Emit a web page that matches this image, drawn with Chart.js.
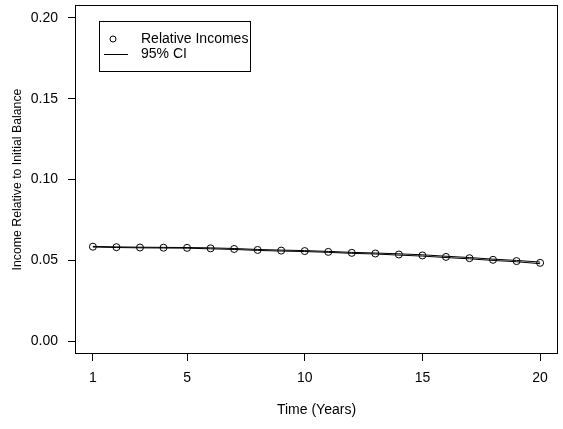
<!DOCTYPE html>
<html>
<head>
<meta charset="utf-8">
<script src="https://cdn.jsdelivr.net/npm/chart.js@4/dist/chart.umd.min.js"></script>
<style>
html,body{margin:0;padding:0;background:#fff;}
#wrap{width:563px;height:429px;}
</style>
</head>
<body>
<div id="wrap"><canvas id="c" width="563" height="429"></canvas></div>
<script>
const years = [1,2,3,4,5,6,7,8,9,10,11,12,13,14,15,16,17,18,19,20];
const relativeIncomes = [0.0584,0.0581,0.0579,0.0578,0.0577,0.0574,0.0570,0.0564,0.0560,0.0557,0.0552,0.0546,0.0542,0.0536,0.0530,0.0521,0.0513,0.0503,0.0495,0.0484];
const ciUpper = [0.0586,0.0583,0.0581,0.0580,0.0579,0.0577,0.0573,0.0567,0.0563,0.0560,0.0555,0.0549,0.0545,0.0540,0.0534,0.0525,0.0517,0.0507,0.0499,0.0489];
const ciLower = [0.0582,0.0579,0.0577,0.0576,0.0575,0.0571,0.0567,0.0561,0.0557,0.0554,0.0549,0.0543,0.0539,0.0532,0.0526,0.0517,0.0509,0.0499,0.0491,0.0479];
const xTicks = [1,5,10,15,20];
const yTicks = [0.00,0.05,0.10,0.15,0.20];
const xLabel = "Time (Years)";
const yLabel = "Income Relative to Initial Balance";
const legendLabels = ["Relative Incomes","95% CI"];

const FONT = "'Liberation Sans', Arial, Helvetica, sans-serif";

const toXY = arr => arr.map((v,i)=>({x:years[i], y:v}));

const boxPlugin = {
  id:'box',
  afterDraw(chart){
    const {ctx, chartArea:a} = chart;
    ctx.save();
    ctx.strokeStyle='#000';
    ctx.lineWidth=1;
    ctx.strokeRect(Math.round(a.left)+0.5, Math.round(a.top)+0.5, Math.round(a.right-a.left)-1, Math.round(a.bottom-a.top)-1);
    // legend
    const lx=99.5, ly=21.5, lw=151, lh=50;
    ctx.strokeRect(lx,ly,lw,lh);
    ctx.beginPath();
    ctx.arc(113,39,3,0,Math.PI*2);
    ctx.stroke();
    ctx.beginPath();
    ctx.moveTo(104,54.5); ctx.lineTo(128,54.5);
    ctx.stroke();
    ctx.fillStyle='#000';
    ctx.font = "14px " + FONT;
    ctx.textBaseline='middle';
    ctx.textAlign='left';
    ctx.fillText(legendLabels[0],141,39);
    ctx.fillText(legendLabels[1],141,54);
    ctx.restore();
  }
};

new Chart(document.getElementById('c'), {
  type:'scatter',
  data:{
    datasets:[
      {label:legendLabels[0], data:toXY(relativeIncomes), showLine:false, pointStyle:'circle', pointRadius:3.5, pointBorderWidth:1, pointBorderColor:'#000', pointBackgroundColor:'rgba(0,0,0,0)', order:0},
      {label:legendLabels[1], data:toXY(ciUpper), showLine:true, borderColor:'#000', borderWidth:1, pointRadius:0, order:1},
      {label:legendLabels[1]+' lower', data:toXY(ciLower), showLine:true, borderColor:'#000', borderWidth:1, pointRadius:0, order:1}
    ]
  },
  options:{
    responsive:false,
    animation:false,
    devicePixelRatio:1,
    layout:{padding:{left:0,right:1.5,top:2.5,bottom:0}},
    plugins:{legend:{display:false}, tooltip:{enabled:false}},
    scales:{
      x:{
        type:'linear', min:0.24, max:20.76,
        afterBuildTicks(s){ s.ticks = xTicks.map(v=>({value:v})); },
        afterFit(s){ s.height = 75; s.paddingLeft = 0; s.paddingRight = 0; },
        grid:{display:true, drawOnChartArea:false, drawTicks:true, tickLength:7, color:'#000', lineWidth:1},
        border:{display:false},
        ticks:{color:'#000', font:{family:FONT,size:14}, padding:9, maxRotation:0, autoSkip:false, callback:v=>String(v)},
        title:{display:true, text:xLabel, color:'#000', font:{family:FONT,size:14}, padding:{top:0,bottom:10}}
      },
      y:{
        type:'linear', min:-0.008, max:0.208,
        afterBuildTicks(s){ s.ticks = yTicks.map(v=>({value:v})); },
        afterFit(s){ s.width = 75; s.paddingTop = 0; s.paddingBottom = 0; },
        grid:{display:true, drawOnChartArea:false, drawTicks:true, tickLength:7, color:'#000', lineWidth:1},
        border:{display:false},
        ticks:{color:'#000', font:{family:FONT,size:14}, padding:10, autoSkip:false, callback:v=>Number(v).toFixed(2)},
        title:{display:true, text:yLabel, color:'#000', font:{family:FONT,size:12.3}, padding:{top:10,bottom:0}}
      }
    }
  },
  plugins:[boxPlugin]
});
</script>
</body>
</html>
